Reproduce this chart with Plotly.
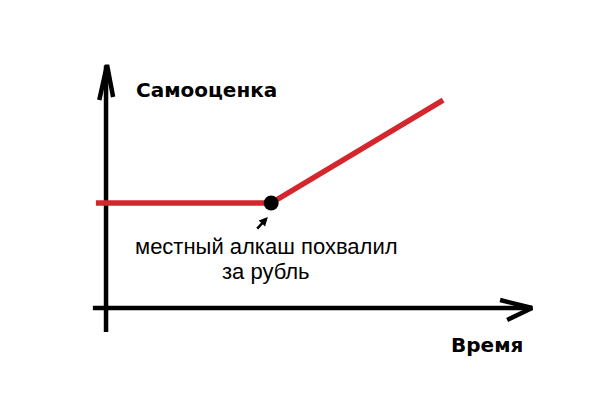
import plotly.graph_objects as go

# Data (time vs self-esteem)
red_t = [-0.3, 4.9, 10.0]
red_v = [5.0, 5.0, 9.9]
point_t = [4.9]
point_v = [5.0]
yaxis_t = [0.0, 0.0]
yaxis_v = [-1.14, 11.55]
xaxis_t = [-0.39, 12.64]
xaxis_v = [0.0, 0.0]
yarrow_t = [-0.2, 0.03, 0.21]
yarrow_v = [9.9, 11.57, 10.05]
xarrow_t = [11.69, 12.64, 11.9]
xarrow_v = [0.38, 0.0, -0.57]

label_y = "Самооценка"
label_x = "Время"
note_lines = ["местный алкаш похвалил", "за рубль"]

RED = "rgb(212,38,44)"
BLACK = "black"

fig = go.Figure()
fig.add_trace(go.Scatter(x=yaxis_t, y=yaxis_v, mode="lines",
                         line=dict(color=BLACK, width=4.5), hoverinfo="skip"))
fig.add_trace(go.Scatter(x=yarrow_t, y=yarrow_v, mode="lines",
                         line=dict(color=BLACK, width=4.5), hoverinfo="skip"))
fig.add_trace(go.Scatter(x=xaxis_t, y=xaxis_v, mode="lines",
                         line=dict(color=BLACK, width=4.5), hoverinfo="skip"))
fig.add_trace(go.Scatter(x=xarrow_t, y=xarrow_v, mode="lines",
                         line=dict(color=BLACK, width=4.5), hoverinfo="skip"))
fig.add_trace(go.Scatter(x=red_t, y=red_v, mode="lines",
                         line=dict(color=RED, width=5.5), hoverinfo="skip"))
fig.add_trace(go.Scatter(x=point_t, y=point_v, mode="markers",
                         marker=dict(color=BLACK, size=15, symbol="circle"),
                         hoverinfo="skip"))

# small pointer arrow to the point
fig.add_annotation(x=4.8, y=4.33, xref="x", yref="y", text="",
                   showarrow=True, ax=-12, ay=13, arrowhead=2,
                   arrowsize=0.7, arrowwidth=2.5, arrowcolor=BLACK)

fig.add_annotation(x=2.98, y=10.38, xref="x", yref="y", text=label_y,
                   showarrow=False,
                   font=dict(family="DejaVu Sans", size=20, color=BLACK, weight="bold"))
fig.add_annotation(x=11.3, y=-1.76, xref="x", yref="y", text=label_x,
                   showarrow=False,
                   font=dict(family="DejaVu Sans", size=20, color=BLACK, weight="bold"))
fig.add_annotation(x=4.75, y=2.95, xref="x", yref="y", text=note_lines[0],
                   showarrow=False,
                   font=dict(family="Liberation Sans", size=22, color=BLACK))
fig.add_annotation(x=4.75, y=1.76, xref="x", yref="y", text=note_lines[1],
                   showarrow=False,
                   font=dict(family="Liberation Sans", size=22, color=BLACK))

fig.update_layout(
    width=604, height=407, autosize=False,
    margin=dict(l=0, r=0, t=0, b=0),
    paper_bgcolor="white", plot_bgcolor="white",
    showlegend=False,
    xaxis=dict(range=[-2.908, 15.01], visible=False, fixedrange=True),
    yaxis=dict(range=[-5.095, 14.286], visible=False, fixedrange=True),
)

fig.write_html("out.html")
